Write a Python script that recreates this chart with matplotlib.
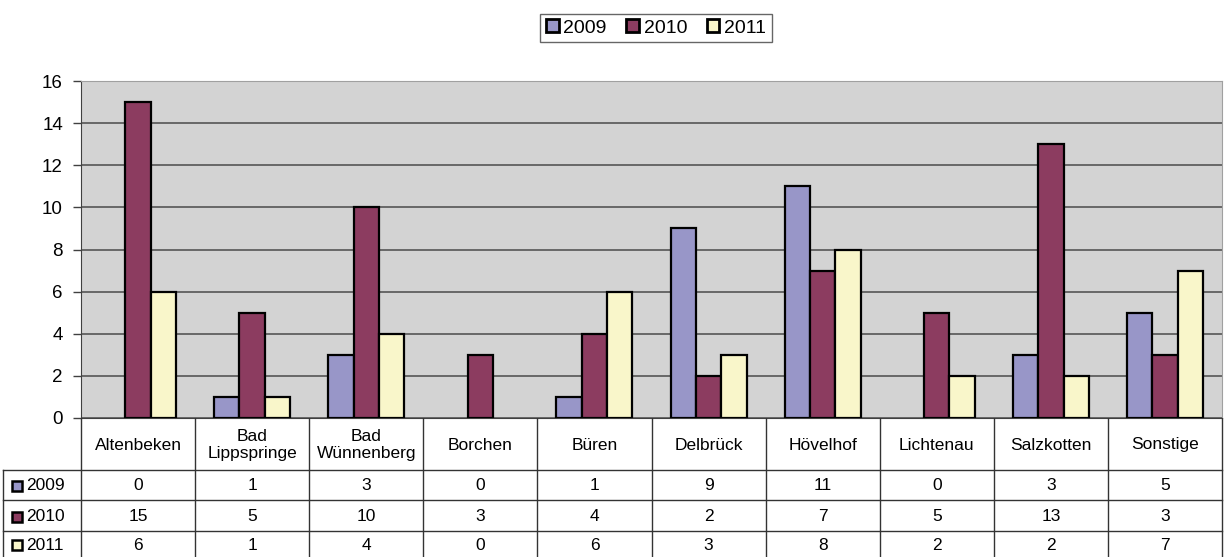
import numpy as np
import matplotlib.pyplot as plt
from matplotlib.patches import Rectangle

categories = ["Altenbeken", "Bad\nLippspringe", "Bad\nWünnenberg", "Borchen", "Büren",
              "Delbrück", "Hövelhof", "Lichtenau", "Salzkotten", "Sonstige"]
years = ["2009", "2010", "2011"]
v2009 = [0, 1, 3, 0, 1, 9, 11, 0, 3, 5]
v2010 = [15, 5, 10, 3, 4, 2, 7, 5, 13, 3]
v2011 = [6, 1, 4, 0, 6, 3, 8, 2, 2, 7]
colors = ["#9896C8", "#8C3C60", "#F9F6CA"]

W, H = 1224, 557
fig = plt.figure(figsize=(W / 100, H / 100), dpi=100)
plt.rcParams["font.family"] = ["Liberation Sans", "DejaVu Sans"]

# plot area in pixels
px0, px1 = 81, 1222
py_top, py_bot = 81, 418
ax = fig.add_axes([px0 / W, 1 - py_bot / H, (px1 - px0) / W, (py_bot - py_top) / H])
ax.set_facecolor("#D3D3D3")

n = len(categories)
x = np.arange(n) + 0.5
bw = 1 / 4.5
for k, vals in enumerate([v2009, v2010, v2011]):
    vals = np.array(vals, dtype=float)
    xs = x + (k - 1) * bw
    mask = vals > 0
    ax.bar(xs[mask], vals[mask], width=bw, color=colors[k], edgecolor="black",
           linewidth=1.6, zorder=3)

ax.set_xlim(0, n)
ax.set_ylim(0, 16)
ax.set_yticks(range(0, 17, 2))
ax.tick_params(axis="y", labelsize=13.5, length=6, width=1, color="#404040", pad=7)
ax.set_xticks([])
ax.yaxis.grid(True, color="#555555", linewidth=1.2, zorder=0)
ax.set_axisbelow(True)
for s in ["top", "right"]:
    ax.spines[s].set_color("#A0A0A0")
ax.spines["left"].set_color("#404040")
ax.spines["bottom"].set_color("#404040")

# legend
handles = [Rectangle((0, 0), 1, 1, facecolor=c, edgecolor="black", linewidth=2) for c in colors]
leg = fig.legend(handles, years, loc="center", bbox_to_anchor=(656 / W, 1 - 28 / H),
                 ncol=3, frameon=True, fancybox=False, fontsize=14, handlelength=0.65,
                 handleheight=0.65, handletextpad=0.25, columnspacing=1.0, borderpad=0.3)
leg.get_frame().set_edgecolor("#404040")
leg.get_frame().set_linewidth(1)

# data table
tab = fig.add_axes([0, 0, 1, (H - py_bot) / H])
tab.set_xlim(0, W)
tab.set_ylim(H, py_bot)
tab.axis("off")
cw = (px1 - px0) / n
rows_y = [py_bot, 470, 500, 531, H]
lc = "#333333"
for i in range(n + 1):
    xx = px0 + i * cw
    tab.plot([xx, xx], [py_bot, H], color=lc, lw=1)
tab.plot([3, 3], [rows_y[1], H], color=lc, lw=1)
for yy in rows_y[1:4]:
    tab.plot([3, px1], [yy, yy], color=lc, lw=1)
for i, c in enumerate(categories):
    tab.text(px0 + (i + 0.5) * cw, (rows_y[0] + rows_y[1]) / 2 + 1, c, ha="center", va="center",
             fontsize=12.5, linespacing=1.15)
for r, vals in enumerate([v2009, v2010, v2011]):
    yc = (rows_y[r + 1] + rows_y[r + 2]) / 2 + 1
    tab.add_patch(Rectangle((12, yc - 5), 10, 10, facecolor=colors[r], edgecolor="black", lw=1.8))
    tab.text(26, yc, years[r], ha="left", va="center", fontsize=12.5)
    for i, v in enumerate(vals):
        tab.text(px0 + (i + 0.5) * cw, yc, str(v), ha="center", va="center", fontsize=12.5)

fig.savefig("out.png", dpi=100)
